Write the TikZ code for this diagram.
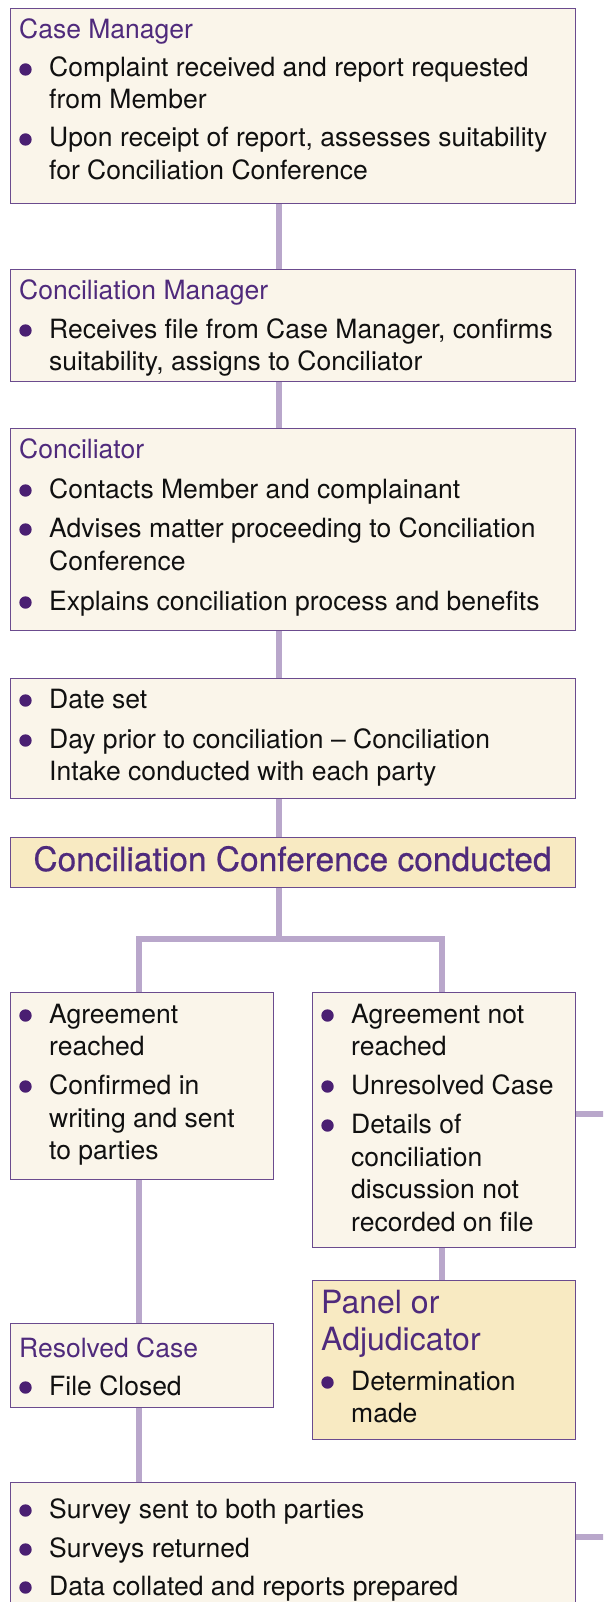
\documentclass[tikz,border=0pt]{standalone}
\usepackage{fontspec}
\setmainfont{TeX Gyre Heros}
\newfontfamily\medfont[FakeBold=0.5]{TeX Gyre Heros}
\usetikzlibrary{calc}
\definecolor{boxfill}{HTML}{FAF5EA}
\definecolor{hifill}{HTML}{F8EAC2}
\definecolor{bordc}{HTML}{6B4B8E}
\definecolor{titlec}{HTML}{4F2A7C}
\definecolor{bulc}{HTML}{4A1F72}
\definecolor{connc}{HTML}{B9A7CB}
\definecolor{textc}{HTML}{101010}
\newcounter{tn}
\newcommand\Ttl[3]{\stepcounter{tn}\node[ttl] (t\arabic{tn}) at (#1+9,#2) {#3};}
\newcommand\Ln[3]{\stepcounter{tn}\node[body] (t\arabic{tn}) at (#1+39,#2) {#3};}
\newcommand\Bu[3]{\fill[bulc] (#1+15.5,#2-7.5) circle (6.2pt); \Ln{#1}{#2}{#3}}
\tikzset{
 box/.style={draw=bordc, fill=boxfill, line width=1.4pt, inner sep=0pt, anchor=north west},
 hibox/.style={box, fill=hifill},
 conn/.style={draw=connc, line width=6pt},
 body/.style={anchor=base west, inner sep=0pt, text=textc, font=\fontsize{26.5}{32}\selectfont},
 ttl/.style={body, text=titlec},
 bigttl/.style={body, text=titlec, font=\fontsize{32}{37}\selectfont},
 hugettl/.style={body, text=titlec, font=\medfont\fontsize{33.5}{38}\selectfont},
}
\begin{document}
\begin{tikzpicture}[x=1pt, y=-1pt]
\useasboundingbox (0,0) rectangle (603,1602);
\clip (0,0) rectangle (603,1602);
% boxes
\node[box, minimum width=565pt, minimum height=195pt] (b1) at (10,8) {};
\node[box, minimum width=565pt, minimum height=112pt] (b2) at (10,269) {};
\node[box, minimum width=565pt, minimum height=202pt] (b3) at (10,428) {};
\node[box, minimum width=565pt, minimum height=120pt] (b4) at (10,678) {};
\node[hibox, minimum width=565pt, minimum height=50pt] (b5) at (10,837) {};
\node[box, minimum width=263pt, minimum height=187pt] (bl) at (10,992) {};
\node[box, minimum width=263pt, minimum height=255pt] (br) at (312,992) {};
\node[hibox, minimum width=263pt, minimum height=159pt] (pa) at (312,1280) {};
\node[box, minimum width=263pt, minimum height=84pt] (rc) at (10,1323) {};
\node[box, minimum width=565pt, minimum height=160pt] (b6) at (10,1482) {};
% connectors
\coordinate (spine) at (279,0);
\coordinate (jl) at (139,939);
\coordinate (jr) at (442,939);
\coordinate (s1) at (610,1114);
\coordinate (s2) at (610,1537);
\draw[conn] (b1.south -| spine) -- (b2.north -| spine);
\draw[conn] (b2.south -| spine) -- (b3.north -| spine);
\draw[conn] (b3.south -| spine) -- (b4.north -| spine);
\draw[conn] (b4.south -| spine) -- (b5.north -| spine);
\draw[conn] (b5.south -| spine) -- (spine |- jl);
\draw[conn] (bl.north -| jl) -- (jl) -- (jr) -- (br.north -| jr);
\draw[conn] (bl.south -| jl) -- (rc.north -| jl);
\draw[conn] (rc.south -| jl) -- (b6.north -| jl);
\draw[conn] (br.south -| jr) -- (pa.north -| jr);
\draw[conn] (s1 -| br.east) -- (s1);
\draw[conn] (s2 -| b6.east) -- (s2);
% texts
\Ttl{10}{39}{Case Manager}
\Bu{10}{77}{Complaint received and report requested}
\Ln{10}{109}{from Member}
\Bu{10}{147}{Upon receipt of report, assesses suitability}
\Ln{10}{180}{for Conciliation Conference}
\Ttl{10}{300}{Conciliation Manager}
\Bu{10}{338}{Receives file from Case Manager, confirms}
\Ln{10}{370}{suitability, assigns to Conciliator}
\Ttl{10}{458}{Conciliator}
\Bu{10}{498}{Contacts Member and complainant}
\Bu{10}{537}{Advises matter proceeding to Conciliation}
\Ln{10}{570}{Conference}
\Bu{10}{610}{Explains conciliation process and benefits}
\Bu{10}{708}{Date set}
\Bu{10}{748}{Day prior to conciliation – Conciliation}
\Ln{10}{780}{Intake conducted with each party}
\node[hugettl, anchor=base] (cct) at (292.5,871) {Conciliation Conference conducted};
\Bu{10}{1023}{Agreement}
\Ln{10}{1055}{reached}
\Bu{10}{1094}{Confirmed in}
\Ln{10}{1127}{writing and sent}
\Ln{10}{1159}{to parties}
\Bu{312}{1023}{Agreement not}
\Ln{312}{1055}{reached}
\Bu{312}{1094}{Unresolved Case}
\Bu{312}{1133}{Details of}
\Ln{312}{1166}{conciliation}
\Ln{312}{1198}{discussion not}
\Ln{312}{1231}{recorded on file}
\node[bigttl] (pt1) at (321,1313) {Panel or};
\node[bigttl] (pt2) at (321,1350) {Adjudicator};
\Bu{312}{1390}{Determination}
\Ln{312}{1422}{made}
\Ttl{10}{1357}{Resolved Case}
\Bu{10}{1395}{File Closed}
\Bu{10}{1518}{Survey sent to both parties}
\Bu{10}{1557}{Surveys returned}
\Bu{10}{1595}{Data collated and reports prepared}
\end{tikzpicture}
\end{document}
